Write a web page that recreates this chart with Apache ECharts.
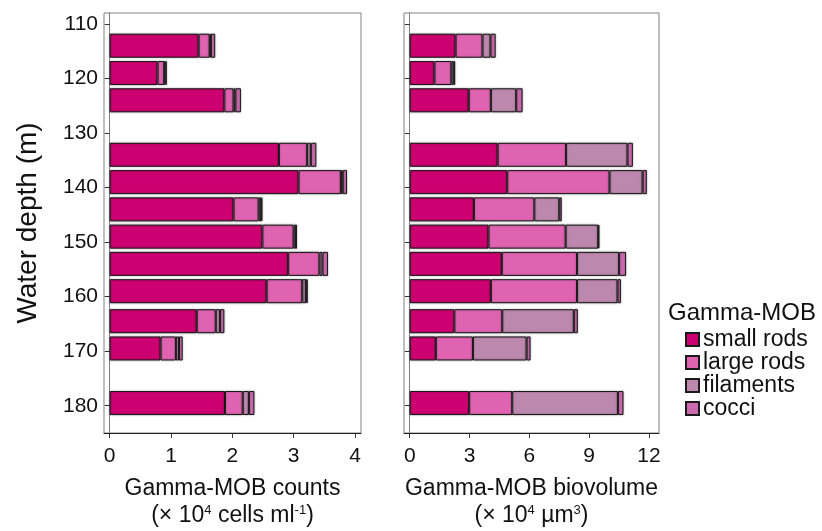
<!DOCTYPE html>
<html>
<head>
<meta charset="utf-8">
<script src="https://cdn.jsdelivr.net/npm/echarts@6/dist/echarts.min.js"></script>
<style>
  html, body { margin: 0; padding: 0; background: #fff; }
  #chart { width: 822px; height: 531px; }
</style>
</head>
<body>
<div id="chart"></div>
<script>
// sampling depths (m), as placed on the depth axis
var depths = [114, 119, 124, 134, 139, 144, 149, 154, 159, 164.5, 169.5, 179.5];
var yTicks = [110, 120, 130, 140, 150, 160, 170, 180];
var groups = ['small rods', 'large rods', 'filaments', 'cocci'];

// counts, x 10^4 cells/ml
var countSmall = [1.45, 0.78, 1.87, 2.76, 3.08, 2.02, 2.49, 2.91, 2.56, 1.42, 0.83, 1.88];
var countLarge = [0.18, 0.11, 0.15, 0.46, 0.69, 0.41, 0.51, 0.51, 0.58, 0.31, 0.25, 0.29];
var countFil   = [0.02, 0.02, 0.03, 0.06, 0.03, 0.04, 0.04, 0.05, 0.06, 0.07, 0.05, 0.10];
var countCocci = [0.07, 0.02, 0.09, 0.09, 0.07, 0.02, 0.01, 0.09, 0.03, 0.07, 0.06, 0.09];

// biovolume, x 10^4 um3
var bioSmall = [2.30, 1.24, 2.96, 4.41, 4.89, 3.22, 3.95, 4.62, 4.07, 2.24, 1.31, 2.98];
var bioLarge = [1.35, 0.85, 1.11, 3.43, 5.13, 3.03, 3.87, 3.77, 4.32, 2.40, 1.86, 2.16];
var bioFil   = [0.40, 0.12, 1.27, 3.08, 1.66, 1.25, 1.63, 2.11, 2.03, 3.59, 2.69, 5.30];
var bioCocci = [0.26, 0.07, 0.32, 0.27, 0.21, 0.12, 0.06, 0.35, 0.17, 0.20, 0.20, 0.28];

var countTicks = [0, 1, 2, 3, 4];
var bioTicks = [0, 3, 6, 9, 12];

var colors = ['#cc0070', '#e063b2', '#bd88ad', '#cb6aae'];
var font = 'Liberation Sans, Arial, sans-serif';

// category axis: one slot per half metre
var cats = [];
for (var i = 0; i <= 154; i++) cats.push(String(108 + i * 0.5));

function toCats(vals) {
  return cats.map(function (c) {
    var k = depths.indexOf(Number(c));
    return k < 0 ? '-' : vals[k];
  });
}

function isTick(i, v) {
  return yTicks.indexOf(Number(v)) >= 0;
}

function yAxis(idx, showLabel) {
  return {
    type: 'category', gridIndex: idx, data: cats, inverse: true, boundaryGap: false,
    axisLine: { lineStyle: { color: '#808080', width: 1 } },
    axisTick: { length: 5, alignWithLabel: true, lineStyle: { color: '#333' }, interval: isTick },
    axisLabel: { show: showLabel, margin: 6, color: '#111', fontSize: 21, fontFamily: font, interval: isTick },
    splitLine: { show: false },
    name: showLabel ? 'Water depth (m)' : '', nameLocation: 'middle', nameGap: 62,
    nameTextStyle: { fontSize: 28, color: '#111', fontFamily: font }
  };
}

function xAxis(idx, min, max, ticks, name) {
  return {
    type: 'value', gridIndex: idx, min: min, max: max,
    axisLine: { show: true, lineStyle: { color: '#222', width: 1 } },
    axisTick: { show: true, length: 5, lineStyle: { color: '#333' }, customValues: ticks },
    axisLabel: { margin: 13, color: '#111', fontSize: 21, fontFamily: font, customValues: ticks },
    splitLine: { show: false },
    name: name, nameLocation: 'middle', nameGap: 42,
    nameTextStyle: {
      color: '#111', fontFamily: font, fontSize: 23, lineHeight: 27,
      rich: {
        a: { fontSize: 23, lineHeight: 27, color: '#111', fontFamily: font },
        s: { fontSize: 13, lineHeight: 27, verticalAlign: 'top', color: '#111', fontFamily: font, padding: [2, 0, 0, 0] }
      }
    }
  };
}

var series = [];
[[countSmall, countLarge, countFil, countCocci], [bioSmall, bioLarge, bioFil, bioCocci]].forEach(function (set, g) {
  set.forEach(function (vals, k) {
    series.push({
      type: 'bar', name: groups[k], stack: 'p' + g,
      xAxisIndex: g, yAxisIndex: g, barWidth: 24,
      itemStyle: {
        color: colors[k], borderColor: '#1a1a1a', borderWidth: 1,
        shadowColor: 'rgba(0,0,0,0.35)', shadowBlur: 2
      },
      emphasis: { disabled: true },
      data: toCats(vals)
    });
  });
});

var chart = echarts.init(document.getElementById('chart'));
chart.setOption({
  animation: false,
  backgroundColor: '#fff',
  title: {
    text: 'Gamma-MOB', left: 668, top: 301, padding: 0,
    textStyle: { fontSize: 24, fontWeight: 'normal', color: '#111', fontFamily: font }
  },
  legend: {
    orient: 'vertical', left: 685, top: 328, padding: 0,
    itemWidth: 13, itemHeight: 13, itemGap: 0,
    icon: 'rect', data: groups,
    textStyle: { fontSize: 23, lineHeight: 23, color: '#111', fontFamily: font, padding: [0, 0, 0, -1] }
  },
  grid: [
    { left: 104, top: 13, width: 257, height: 420, show: true, borderColor: '#808080', borderWidth: 1, outerBoundsMode: 'none' },
    { left: 404, top: 13, width: 255, height: 420, show: true, borderColor: '#808080', borderWidth: 1, outerBoundsMode: 'none' }
  ],
  xAxis: [
    xAxis(0, -0.093, 4.098, countTicks, '{a|Gamma-MOB counts}\n{a|(× 10}{s|4}{a| cells ml}{s|-1}{a|)}'),
    xAxis(1, -0.287, 12.5, bioTicks, '{a|Gamma-MOB biovolume}\n{a|(× 10}{s|4}{a| µm}{s|3}{a|)}')
  ],
  yAxis: [yAxis(0, true), yAxis(1, false)],
  series: series
});
</script>
</body>
</html>
